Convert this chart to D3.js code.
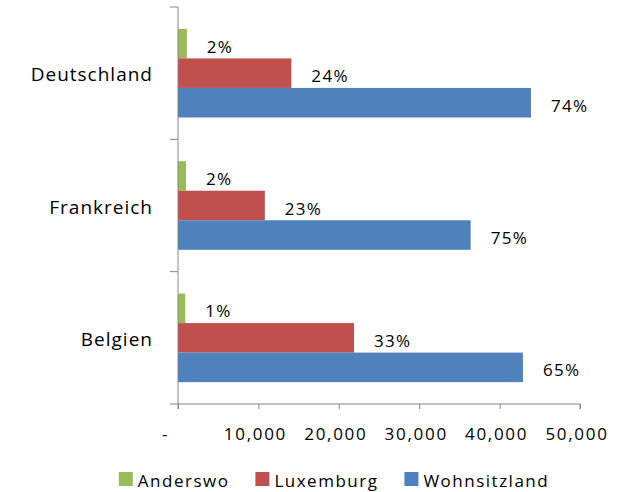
<!DOCTYPE html>
<html>
<head>
<meta charset="utf-8">
<script src="https://cdn.jsdelivr.net/npm/d3@7"></script>
<style>
  body { margin: 0; background: #fff; }
  svg { display: block; font-family: "Open Sans", sans-serif; }
</style>
</head>
<body>
<div id="chart"></div>
<script>
// categories (top to bottom) and series
const countries = ["Deutschland", "Frankreich", "Belgien"];
const series = ["Anderswo", "Luxemburg", "Wohnsitzland"];
const colors = ["#9BBB59", "#C0504D", "#4F81BD"];

// values per series, same order as countries
const anderswo = [1100, 1000, 900];
const luxemburg = [14100, 10800, 21900];
const wohnsitzland = [43900, 36400, 42900];

// shares shown next to the bars
const anderswoPct = ["2%", "2%", "1%"];
const luxemburgPct = ["24%", "23%", "33%"];
const wohnsitzlandPct = ["74%", "75%", "65%"];

const xTicks = [0, 10000, 20000, 30000, 40000, 50000];

const width = 629, height = 492;
const margin = { top: 7, right: 49, bottom: 88, left: 178 };

const svg = d3.select("#chart").append("svg")
  .attr("width", width)
  .attr("height", height);

const x = d3.scaleLinear()
  .domain([0, 50000])
  .range([margin.left, width - margin.right]);

const y = d3.scaleBand()
  .domain(countries)
  .range([margin.top, height - margin.bottom])
  .paddingInner(0);

const ySub = d3.scaleBand()
  .domain(series)
  .range([0, y.bandwidth()])
  .paddingInner(0)
  .paddingOuter(0.74);

const color = d3.scaleOrdinal(series, colors);

const values = [anderswo, luxemburg, wohnsitzland];
const pcts = [anderswoPct, luxemburgPct, wohnsitzlandPct];

const rows = [];
countries.forEach((c, i) => {
  series.forEach((s, j) => {
    rows.push({ country: c, series: s, value: values[j][i], pct: pcts[j][i] });
  });
});

// bars
svg.append("g")
  .selectAll("rect")
  .data(rows)
  .join("rect")
  .attr("x", x(0))
  .attr("y", d => y(d.country) + ySub(d.series))
  .attr("width", d => x(d.value) - x(0))
  .attr("height", ySub.bandwidth())
  .attr("fill", d => color(d.series));

// value labels
svg.append("g")
  .selectAll("text")
  .data(rows)
  .join("text")
  .attr("x", d => x(d.value) + 20)
  .attr("y", d => y(d.country) + ySub(d.series) + ySub.bandwidth() / 2 + 9)
  .attr("font-size", 17)
  .attr("letter-spacing", 1.3)
  .attr("fill", "#000")
  .text(d => d.pct);

// axes
const axisColor = "#868686";

const yAxis = svg.append("g")
  .attr("transform", `translate(${x(0)},0)`)
  .call(d3.axisLeft(y).tickSize(0).tickFormat(""));
yAxis.select(".domain").attr("stroke", axisColor).attr("d",
  `M0,${margin.top}V${height - margin.bottom + 5}`);

// category boundary ticks
svg.append("g")
  .selectAll("line")
  .data(countries.concat([null]))
  .join("line")
  .attr("x1", x(0) - 8)
  .attr("x2", x(0))
  .attr("y1", (d, i) => i < countries.length ? y(d) : y.range()[1])
  .attr("y2", (d, i) => i < countries.length ? y(d) : y.range()[1])
  .attr("stroke", axisColor);

// category labels
svg.append("g")
  .selectAll("text")
  .data(countries)
  .join("text")
  .attr("x", x(0) - 25)
  .attr("y", d => y(d) + y.bandwidth() / 2 + 8)
  .attr("text-anchor", "end")
  .attr("font-size", 19)
  .attr("letter-spacing", 1)
  .attr("fill", "#000")
  .text(d => d);

const xAxis = svg.append("g")
  .attr("transform", `translate(0,${y.range()[1]})`)
  .call(d3.axisBottom(x)
    .tickValues(xTicks)
    .tickSize(5)
    .tickFormat(d => d === 0 ? "-" : d3.format(",")(d)));
xAxis.select(".domain").attr("stroke", axisColor).attr("d",
  `M${x(0)},0H${x(50000)}V5`);
xAxis.selectAll(".tick line").attr("stroke", axisColor);
xAxis.selectAll(".tick text")
  .attr("y", 36)
  .attr("dy", 0)
  .attr("x", d => d === 0 ? -13 : -3.5)
  .attr("font-size", 17)
  .attr("letter-spacing", 1.7)
  .attr("font-family", "Open Sans, sans-serif")
  .attr("fill", "#000");

// legend
const legend = svg.append("g");
const items = legend.selectAll("g")
  .data(series)
  .join("g");
items.append("rect")
  .attr("width", 14)
  .attr("height", 14)
  .attr("y", 472)
  .attr("fill", d => color(d));
items.append("text")
  .attr("x", 19)
  .attr("y", 487)
  .attr("font-size", 17)
  .attr("letter-spacing", 1.5)
  .attr("fill", "#000")
  .text(d => d);

let offset = 0;
const offsets = [];
items.each(function () {
  offsets.push(offset);
  offset += 19 + this.querySelector("text").getComputedTextLength() + 26;
});
const total = offset - 26;
const start = 334 - total / 2;
items.attr("transform", (d, i) => `translate(${start + offsets[i]},0)`);
</script>
</body>
</html>
